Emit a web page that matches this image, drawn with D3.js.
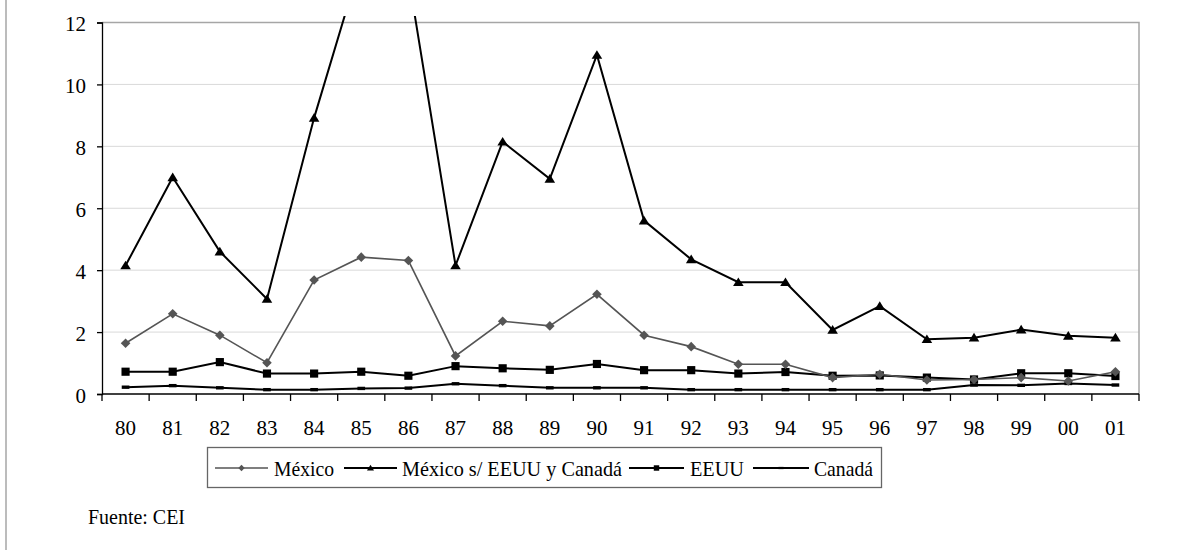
<!DOCTYPE html>
<html><head><meta charset="utf-8">
<script src="https://cdn.jsdelivr.net/npm/d3@7"></script>
<style>
body{margin:0;background:#fff}
svg{display:block}
</style>
</head><body>
<svg id="c" width="1178" height="550" style="font-family:'Liberation Serif','Times New Roman',serif"></svg>
<script>
const categories = ["80","81","82","83","84","85","86","87","88","89","90","91","92","93","94","95","96","97","98","99","00","01"];
const mexico = [1.64,2.59,1.90,1.01,3.68,4.42,4.31,1.23,2.35,2.20,3.22,1.90,1.53,0.96,0.96,0.53,0.64,0.45,0.47,0.53,0.42,0.72];
const mexicoSin = [4.15,7.00,4.60,3.07,8.92,14.0,13.5,4.15,8.15,6.95,10.95,5.60,4.35,3.61,3.61,2.07,2.84,1.77,1.82,2.08,1.88,1.82];
const eeuu = [0.72,0.72,1.03,0.66,0.66,0.72,0.59,0.90,0.83,0.78,0.97,0.77,0.77,0.66,0.71,0.59,0.60,0.53,0.47,0.67,0.67,0.58];
const canada = [0.22,0.27,0.20,0.14,0.14,0.18,0.19,0.33,0.27,0.20,0.20,0.20,0.14,0.14,0.14,0.14,0.14,0.14,0.29,0.28,0.34,0.29];
const yTicks = [0,2,4,6,8,10,12];
const seriesNames = ["México","México s/ EEUU y Canadá","EEUU","Canadá"];
const source = "Fuente: CEI";

const svg = d3.select("#c");
const L = 102, R = 1139, T = 22.5, B = 394;
const x = d3.scaleBand().domain(categories).range([L, R]);
const y = d3.scaleLinear().domain([0, 12]).range([B, T]);

svg.append("line").attr("x1",6).attr("x2",6).attr("y1",0).attr("y2",550)
  .attr("stroke","#a6a6a6").attr("stroke-width",1.5);

svg.append("g").selectAll("line").data(yTicks.filter(d=>d>0&&d<12)).join("line")
  .attr("x1",L).attr("x2",R).attr("y1",d=>y(d)).attr("y2",d=>y(d))
  .attr("stroke","#d9d9d9").attr("stroke-width",1);

svg.append("path").attr("d",`M${L},${T}H${R}V${B}`).attr("fill","none")
  .attr("stroke","#a6a6a6").attr("stroke-width",1.5);

const yAxis = svg.append("g").attr("transform",`translate(${L},0)`)
  .call(d3.axisLeft(y).tickValues(yTicks).tickSize(5).tickPadding(11).tickFormat(d3.format("d")));
yAxis.attr("font-family",null).attr("font-size",null);
yAxis.select(".domain").attr("stroke","#000").attr("stroke-width",1.3);
yAxis.selectAll(".tick line").attr("stroke","#000").attr("stroke-width",1.3);
yAxis.selectAll("text").style("font-size","21px").attr("fill","#000").attr("dy","0.4em");

const xAxis = svg.append("g").attr("transform",`translate(0,${B})`)
  .call(d3.axisBottom(x).tickSize(0).tickPadding(26));
xAxis.attr("font-family",null).attr("font-size",null);
xAxis.select(".domain").attr("d",`M${L},0H${R}`).attr("stroke","#000").attr("stroke-width",1.3);
xAxis.selectAll("text").style("font-size","21px").attr("fill","#000");
const bounds = categories.map(c=>x(c)).concat([R]);
xAxis.append("g").selectAll("line").data(bounds).join("line")
  .attr("x1",d=>d).attr("x2",d=>d).attr("y1",0).attr("y2",7)
  .attr("stroke","#000").attr("stroke-width",1.3);

svg.append("clipPath").attr("id","clip").append("rect")
  .attr("x",L-10).attr("y",16).attr("width",R-L+20).attr("height",B-16+10);

const cx = c => x(c) + x.bandwidth()/2;
const line = d3.line().x((d,i)=>cx(categories[i])).y(d=>y(d));

const series = [
  {name:seriesNames[0], data:mexico, color:"#555555", w:1.6, shape:"diamond"},
  {name:seriesNames[1], data:mexicoSin, color:"#000", w:2, shape:"triangle"},
  {name:seriesNames[2], data:eeuu, color:"#000", w:2, shape:"square"},
  {name:seriesNames[3], data:canada, color:"#000", w:2, shape:"dash"}
];

function marker(g, shape, color, s){
  if(shape==="diamond") g.append("path").attr("d",`M0,${-s}L${s},0L0,${s}L${-s},0Z`).attr("fill",color);
  if(shape==="triangle") g.append("path").attr("d",`M0,${-s*1.0}L${s*1.1},${s*0.8}L${-s*1.1},${s*0.8}Z`).attr("fill",color);
  if(shape==="square") g.append("rect").attr("x",-s*0.85).attr("y",-s*0.85).attr("width",s*1.7).attr("height",s*1.7).attr("fill",color);
  if(shape==="dash") g.append("rect").attr("x",-s*0.8).attr("y",-s*0.35).attr("width",s*1.6).attr("height",s*0.7).attr("fill",color);
}

const plot = svg.append("g").attr("clip-path","url(#clip)");
[3,2,0,1].forEach(k=>{
  const s = series[k];
  plot.append("path").datum(s.data).attr("d",line).attr("fill","none")
    .attr("stroke",s.color).attr("stroke-width",s.w).attr("stroke-linejoin","miter");
  s.data.forEach((v,i)=>{
    if(v>12.3) return;
    const g = plot.append("g").attr("transform",`translate(${cx(categories[i])},${y(v)})`);
    marker(g, s.shape, s.color, 4.8);
  });
});

const lg = svg.append("g");
lg.append("rect").attr("x",207.5).attr("y",447.5).attr("width",674).attr("height",40)
  .attr("fill","#fff").attr("stroke","#666").attr("stroke-width",1.3);
const items = [
  {l1:215,l2:268,tx:274,tw:60},
  {l1:344,l2:397,tx:402,tw:220},
  {l1:629,l2:684,tx:690,tw:54},
  {l1:753,l2:809,tx:814,tw:59}
];
items.forEach((it,k)=>{
  const s = series[k];
  const ly = 468;
  lg.append("line").attr("x1",it.l1).attr("x2",it.l2).attr("y1",ly).attr("y2",ly)
    .attr("stroke",s.color).attr("stroke-width",s.w);
  const g = lg.append("g").attr("transform",`translate(${(it.l1+it.l2)/2},${ly})`);
  marker(g, s.shape, s.color, 3.2);
  lg.append("text").attr("x",it.tx).attr("y",ly).attr("dy","0.35em")
    .style("font-size","22px").attr("fill","#000")
    .attr("textLength",it.tw).attr("lengthAdjust","spacingAndGlyphs").text(s.name);
});

svg.append("text").attr("x",88).attr("y",524).style("font-size","21px")
  .attr("fill","#000").attr("textLength",97).attr("lengthAdjust","spacingAndGlyphs").text(source);
</script>
</body></html>
